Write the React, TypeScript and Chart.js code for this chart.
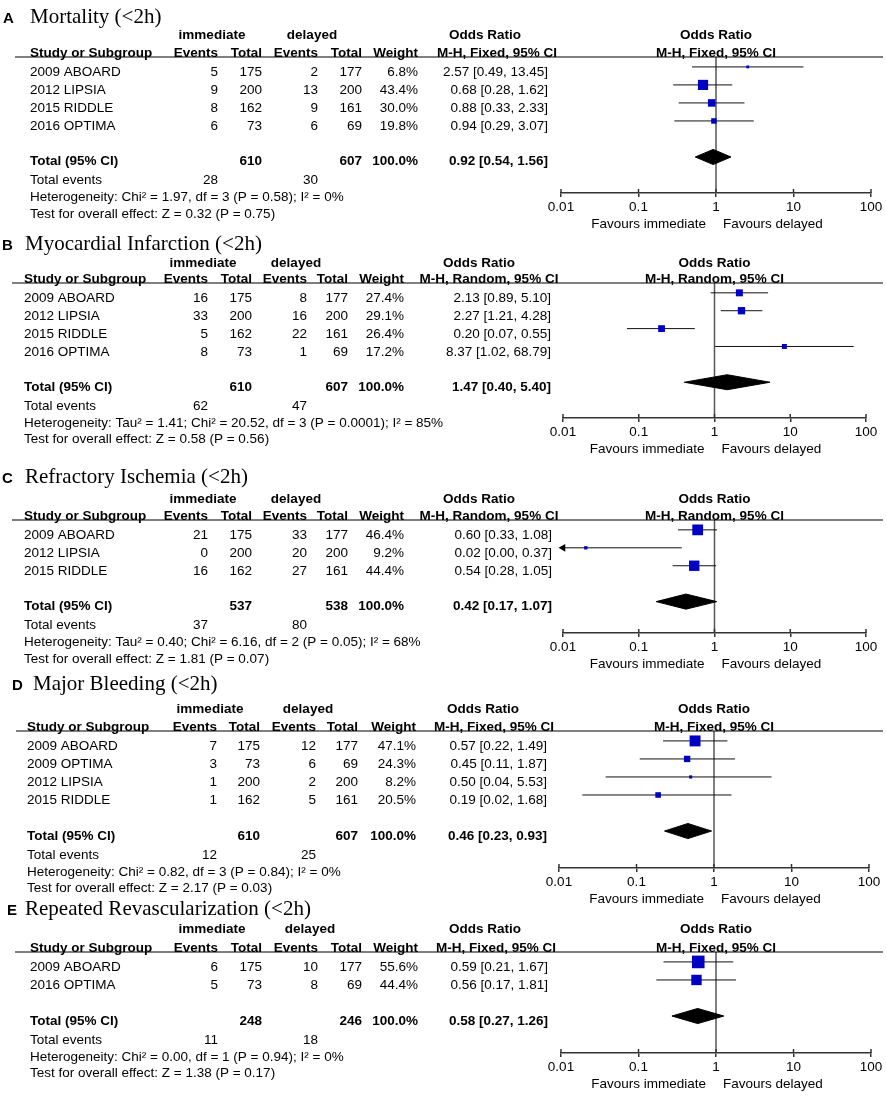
import React, { useEffect, useRef } from "react";
import { Chart, registerables } from "chart.js";

Chart.register(...registerables);

// ---------------- DATA ----------------
const TICK_VALUES = [0.01, 0.1, 1, 10, 100];
const TICK_LABELS = ["0.01", "0.1", "1", "10", "100"];
const AXIS_MIN = 0.01;
const AXIS_MAX = 100;

// A
const A_LETTER = "A";
const A_TITLE = "Mortality (<2h)";
const A_METHOD = "M-H, Fixed, 95% CI";
const A_STUDIES = ["2009 ABOARD", "2012 LIPSIA", "2015 RIDDLE", "2016 OPTIMA"];
const A_EV_IMM = [5, 9, 8, 6];
const A_TOT_IMM = [175, 200, 162, 73];
const A_EV_DEL = [2, 13, 9, 6];
const A_TOT_DEL = [177, 200, 161, 69];
const A_WEIGHT = [6.8, 43.4, 30.0, 19.8];
const A_OR = [2.57, 0.68, 0.88, 0.94];
const A_LO = [0.49, 0.28, 0.33, 0.29];
const A_HI = [13.45, 1.62, 2.33, 3.07];
const A_TOTAL = [0.92, 0.54, 1.56];
const A_HET = "Heterogeneity: Chi² = 1.97, df = 3 (P = 0.58); I² = 0%";
const A_TEST = "Test for overall effect: Z = 0.32 (P = 0.75)";

// B
const B_LETTER = "B";
const B_TITLE = "Myocardial Infarction (<2h)";
const B_METHOD = "M-H, Random, 95% CI";
const B_STUDIES = ["2009 ABOARD", "2012 LIPSIA", "2015 RIDDLE", "2016 OPTIMA"];
const B_EV_IMM = [16, 33, 5, 8];
const B_TOT_IMM = [175, 200, 162, 73];
const B_EV_DEL = [8, 16, 22, 1];
const B_TOT_DEL = [177, 200, 161, 69];
const B_WEIGHT = [27.4, 29.1, 26.4, 17.2];
const B_OR = [2.13, 2.27, 0.2, 8.37];
const B_LO = [0.89, 1.21, 0.07, 1.02];
const B_HI = [5.1, 4.28, 0.55, 68.79];
const B_TOTAL = [1.47, 0.4, 5.4];
const B_HET = "Heterogeneity: Tau² = 1.41; Chi² = 20.52, df = 3 (P = 0.0001); I² = 85%";
const B_TEST = "Test for overall effect: Z = 0.58 (P = 0.56)";

// C
const C_LETTER = "C";
const C_TITLE = "Refractory Ischemia (<2h)";
const C_METHOD = "M-H, Random, 95% CI";
const C_STUDIES = ["2009 ABOARD", "2012 LIPSIA", "2015 RIDDLE"];
const C_EV_IMM = [21, 0, 16];
const C_TOT_IMM = [175, 200, 162];
const C_EV_DEL = [33, 20, 27];
const C_TOT_DEL = [177, 200, 161];
const C_WEIGHT = [46.4, 9.2, 44.4];
const C_OR = [0.6, 0.02, 0.54];
const C_LO = [0.33, 0.0, 0.28];
const C_HI = [1.08, 0.37, 1.05];
const C_TOTAL = [0.42, 0.17, 1.07];
const C_HET = "Heterogeneity: Tau² = 0.40; Chi² = 6.16, df = 2 (P = 0.05); I² = 68%";
const C_TEST = "Test for overall effect: Z = 1.81 (P = 0.07)";

// D
const D_LETTER = "D";
const D_TITLE = "Major Bleeding (<2h)";
const D_METHOD = "M-H, Fixed, 95% CI";
const D_STUDIES = ["2009 ABOARD", "2009 OPTIMA", "2012 LIPSIA", "2015 RIDDLE"];
const D_EV_IMM = [7, 3, 1, 1];
const D_TOT_IMM = [175, 73, 200, 162];
const D_EV_DEL = [12, 6, 2, 5];
const D_TOT_DEL = [177, 69, 200, 161];
const D_WEIGHT = [47.1, 24.3, 8.2, 20.5];
const D_OR = [0.57, 0.45, 0.5, 0.19];
const D_LO = [0.22, 0.11, 0.04, 0.02];
const D_HI = [1.49, 1.87, 5.53, 1.68];
const D_TOTAL = [0.46, 0.23, 0.93];
const D_HET = "Heterogeneity: Chi² = 0.82, df = 3 (P = 0.84); I² = 0%";
const D_TEST = "Test for overall effect: Z = 2.17 (P = 0.03)";

// E
const E_LETTER = "E";
const E_TITLE = "Repeated Revascularization (<2h)";
const E_METHOD = "M-H, Fixed, 95% CI";
const E_STUDIES = ["2009 ABOARD", "2016 OPTIMA"];
const E_EV_IMM = [6, 5];
const E_TOT_IMM = [175, 73];
const E_EV_DEL = [10, 8];
const E_TOT_DEL = [177, 69];
const E_WEIGHT = [55.6, 44.4];
const E_OR = [0.59, 0.56];
const E_LO = [0.21, 0.17];
const E_HI = [1.67, 1.81];
const E_TOTAL = [0.58, 0.27, 1.26];
const E_HET = "Heterogeneity: Chi² = 0.00, df = 1 (P = 0.94); I² = 0%";
const E_TEST = "Test for overall effect: Z = 1.38 (P = 0.17)";

type PanelData = {
  letter: string; title: string; method: string; studies: string[];
  evImm: number[]; totImm: number[]; evDel: number[]; totDel: number[];
  weight: number[]; or: number[]; lo: number[]; hi: number[];
  total: number[]; het: string; test: string;
};

const PANELS: PanelData[] = [
  { letter: A_LETTER, title: A_TITLE, method: A_METHOD, studies: A_STUDIES, evImm: A_EV_IMM, totImm: A_TOT_IMM, evDel: A_EV_DEL, totDel: A_TOT_DEL, weight: A_WEIGHT, or: A_OR, lo: A_LO, hi: A_HI, total: A_TOTAL, het: A_HET, test: A_TEST },
  { letter: B_LETTER, title: B_TITLE, method: B_METHOD, studies: B_STUDIES, evImm: B_EV_IMM, totImm: B_TOT_IMM, evDel: B_EV_DEL, totDel: B_TOT_DEL, weight: B_WEIGHT, or: B_OR, lo: B_LO, hi: B_HI, total: B_TOTAL, het: B_HET, test: B_TEST },
  { letter: C_LETTER, title: C_TITLE, method: C_METHOD, studies: C_STUDIES, evImm: C_EV_IMM, totImm: C_TOT_IMM, evDel: C_EV_DEL, totDel: C_TOT_DEL, weight: C_WEIGHT, or: C_OR, lo: C_LO, hi: C_HI, total: C_TOTAL, het: C_HET, test: C_TEST },
  { letter: D_LETTER, title: D_TITLE, method: D_METHOD, studies: D_STUDIES, evImm: D_EV_IMM, totImm: D_TOT_IMM, evDel: D_EV_DEL, totDel: D_TOT_DEL, weight: D_WEIGHT, or: D_OR, lo: D_LO, hi: D_HI, total: D_TOTAL, het: D_HET, test: D_TEST },
  { letter: E_LETTER, title: E_TITLE, method: E_METHOD, studies: E_STUDIES, evImm: E_EV_IMM, totImm: E_TOT_IMM, evDel: E_EV_DEL, totDel: E_TOT_DEL, weight: E_WEIGHT, or: E_OR, lo: E_LO, hi: E_HI, total: E_TOTAL, het: E_HET, test: E_TEST },
];

// ---------------- LAYOUT / STYLE ----------------
const W = 886;
const SANS = "'Liberation Sans', Arial, sans-serif";
const SERIF = "'Liberation Serif', 'Times New Roman', serif";
const FS = 13.5;
const PANEL_TOP = [0, 226, 463, 674, 895];
const CANVAS_H = [240, 240, 215, 236, 205];
const HEAD_LINE_Y = 57;
const AXIS_Y = [193, 192, 170, 194, 158];
const PLOT_X0 = [561, 563, 563, 559, 561];
const PLOT_X1 = [871, 866, 866, 869, 871];
const Y_MAX = [7.55, 7.55, 6.3, 7.6, 5.6];
const ROW_OFF = 0.55;
const TITLE_BASE = [23, 23.5, 20, 16, 20];
const GROUP_BASE = [38.5, 41, 40, 39, 38];
const LETTER_X = [3, 2, 2, 12, 7];
const TITLE_X = [30, 25, 25, 33, 25];
// name x, events/total imm right, events/total del right, weight right, OR text right
const COLS = [
  [30, 218, 262, 318, 362, 418, 548],
  [24, 208, 252, 307, 348, 404, 551],
  [24, 208, 252, 307, 348, 404, 552],
  [27, 217, 260, 316, 358, 416, 547],
  [30, 218, 262, 318, 362, 418, 548],
];
// centers: immediate, delayed, "Odds Ratio", method header
const CENTERS = [
  [212, 312, 485, 497],
  [203, 296, 479, 489],
  [203, 296, 479, 489],
  [210, 308, 483, 494],
  [212, 310, 485, 496],
];
const RULE_X0 = [15, 12, 12, 16, 15];
const RULE_X1 = 883;
const X_SCALE_H = 30;
const MARKER_COLOR = "#0000C4";
const AXIS_COLOR = "#333333";

const fmt2 = (v: number) => v.toFixed(2);

function tablePlugin(p: PanelData, i: number) {
  return {
    id: "forestTable" + i,
    afterDraw(chart: any) {
      const ctx: CanvasRenderingContext2D = chart.ctx;
      const xs = chart.scales.x;
      const ys = chart.scales.y;
      const area = chart.chartArea;
      const c = COLS[i];
      const g = CENTERS[i];
      const n = p.studies.length;
      ctx.save();
      ctx.fillStyle = "#000";
      ctx.textBaseline = "alphabetic";
      const txt = (s: string, x: number, y: number, align: CanvasTextAlign, bold = false, size = FS) => {
        ctx.font = `${bold ? "bold " : ""}${size}px ${SANS}`;
        ctx.textAlign = align;
        ctx.fillText(s, x, y);
      };
      // Title
      txt(p.letter, LETTER_X[i], TITLE_BASE[i], "left", true, 15);
      ctx.font = `21px ${SERIF}`;
      ctx.textAlign = "left";
      ctx.fillText(p.title, TITLE_X[i], TITLE_BASE[i]);
      // Headers
      const gb = GROUP_BASE[i];
      const hb = area.top - 0.5;
      const mid = (area.left + area.right) / 2;
      txt("immediate", g[0], gb, "center", true);
      txt("delayed", g[1], gb, "center", true);
      txt("Odds Ratio", g[2], gb, "center", true);
      txt("Odds Ratio", mid, gb, "center", true);
      txt("Study or Subgroup", c[0], hb, "left", true);
      txt("Events", c[1], hb, "right", true);
      txt("Total", c[2], hb, "right", true);
      txt("Events", c[3], hb, "right", true);
      txt("Total", c[4], hb, "right", true);
      txt("Weight", c[5], hb, "right", true);
      txt(p.method, g[3], hb, "center", true);
      txt(p.method, mid, hb, "center", true);
      ctx.strokeStyle = "#000";
      ctx.lineWidth = 1.2;
      ctx.beginPath();
      ctx.moveTo(RULE_X0[i], area.top);
      ctx.lineTo(RULE_X1, area.top);
      ctx.stroke();
      // Study rows
      for (let k = 0; k < n; k++) {
        const yb = ys.getPixelForValue(k + ROW_OFF) + 9.5;
        txt(p.studies[k], c[0], yb, "left");
        txt(String(p.evImm[k]), c[1], yb, "right");
        txt(String(p.totImm[k]), c[2], yb, "right");
        txt(String(p.evDel[k]), c[3], yb, "right");
        txt(String(p.totDel[k]), c[4], yb, "right");
        txt(p.weight[k].toFixed(1) + "%", c[5], yb, "right");
        txt(`${fmt2(p.or[k])} [${fmt2(p.lo[k])}, ${fmt2(p.hi[k])}]`, c[6], yb, "right");
      }
      // Total rows
      const sum = (a: number[]) => a.reduce((s, v) => s + v, 0);
      const tb = ys.getPixelForValue(n + 1 + ROW_OFF) + 8.5;
      txt("Total (95% CI)", c[0], tb, "left", true);
      txt(String(sum(p.totImm)), c[2], tb, "right", true);
      txt(String(sum(p.totDel)), c[4], tb, "right", true);
      txt("100.0%", c[5], tb, "right", true);
      txt(`${fmt2(p.total[0])} [${fmt2(p.total[1])}, ${fmt2(p.total[2])}]`, c[6], tb, "right", true);
      txt("Total events", c[0], tb + 19, "left");
      txt(String(sum(p.evImm)), c[1], tb + 19, "right");
      txt(String(sum(p.evDel)), c[3], tb + 19, "right");
      txt(p.het, c[0], tb + 36, "left");
      txt(p.test, c[0], tb + 52.5, "left");
      // Favours
      const x1 = xs.getPixelForValue(1);
      txt("Favours immediate", x1 - 10, area.bottom + 34.5, "right");
      txt("Favours delayed", x1 + 7, area.bottom + 34.5, "left");
      // upper halves of axis ticks
      ctx.strokeStyle = AXIS_COLOR;
      ctx.lineWidth = 1.5;
      xs.ticks.forEach((_t: any, j: number) => {
        const px = xs.getPixelForTick(j);
        ctx.beginPath();
        ctx.moveTo(px, area.bottom - 4);
        ctx.lineTo(px, area.bottom);
        ctx.stroke();
      });
      ctx.restore();
    },
  };
}

function buildConfig(p: PanelData, i: number): any {
  const n = p.studies.length;
  const yMax = Y_MAX[i];
  const datasets: any[] = [];
  // study squares
  datasets.push({
    data: p.or.map((v, k) => ({ x: v, y: k + ROW_OFF })),
    pointStyle: "rect",
    pointRadius: p.weight.map((w) => (0.2 * w + 1.5) / Math.SQRT2),
    pointBackgroundColor: MARKER_COLOR,
    pointBorderWidth: 0,
    showLine: false,
  });
  // arrows for CIs beyond the axis
  const arrows: any[] = [];
  const rot: number[] = [];
  p.lo.forEach((v, k) => { if (v < AXIS_MIN) { arrows.push({ x: AXIS_MIN, y: k + ROW_OFF }); rot.push(270); } });
  p.hi.forEach((v, k) => { if (v > AXIS_MAX) { arrows.push({ x: AXIS_MAX, y: k + ROW_OFF }); rot.push(90); } });
  if (arrows.length) {
    datasets.push({
      data: arrows,
      pointStyle: "triangle",
      pointRadius: 4.5,
      pointRotation: rot,
      pointBackgroundColor: "#000",
      pointBorderWidth: 0,
      showLine: false,
      clip: false,
    });
  }
  // pooled diamond
  const ty = n + 1 + ROW_OFF;
  const dh = 0.42;
  datasets.push({
    data: [
      { x: p.total[1], y: ty },
      { x: p.total[0], y: ty - dh },
      { x: p.total[2], y: ty },
      { x: p.total[0], y: ty + dh },
      { x: p.total[1], y: ty },
    ],
    showLine: true,
    pointRadius: 0,
    borderColor: "#000",
    borderWidth: 1,
    backgroundColor: "#000",
    fill: "shape",
  });
  // CI lines
  p.or.forEach((_v, k) => {
    datasets.push({
      data: [
        { x: Math.max(p.lo[k], AXIS_MIN), y: k + ROW_OFF },
        { x: Math.min(p.hi[k], AXIS_MAX), y: k + ROW_OFF },
      ],
      showLine: true,
      pointRadius: 0,
      borderColor: "#111",
      borderWidth: 1,
      fill: false,
    });
  });
  // line of no effect
  datasets.push({
    data: [{ x: 1, y: 0 }, { x: 1, y: yMax }],
    showLine: true,
    pointRadius: 0,
    borderColor: "#555",
    borderWidth: 1.5,
    fill: false,
  });

  return {
    type: "scatter",
    data: { datasets },
    options: {
      responsive: false,
      animation: false,
      events: [],
      layout: {
        padding: {
          left: PLOT_X0[i],
          right: W - PLOT_X1[i],
          top: HEAD_LINE_Y,
          bottom: CANVAS_H[i] - AXIS_Y[i] - X_SCALE_H,
        },
      },
      plugins: { legend: { display: false }, tooltip: { enabled: false }, title: { display: false } },
      scales: {
        x: {
          type: "logarithmic",
          min: AXIS_MIN,
          max: AXIS_MAX,
          position: "bottom",
          afterBuildTicks: (scale: any) => {
            scale.ticks = TICK_VALUES.map((v) => ({ value: v }));
          },
          afterFit: (scale: any) => {
            scale.height = X_SCALE_H;
          },
          ticks: {
            autoSkip: false,
            maxRotation: 0,
            padding: 2,
            color: "#000",
            font: { family: SANS, size: FS },
            callback: (v: any) => {
              const idx = TICK_VALUES.indexOf(Number(v));
              return idx >= 0 ? TICK_LABELS[idx] : "";
            },
          },
          grid: {
            display: true,
            drawOnChartArea: false,
            drawTicks: true,
            tickLength: 4,
            color: AXIS_COLOR,
            lineWidth: 1.5,
          },
          border: { display: true, color: AXIS_COLOR, width: 1.5 },
        },
        y: {
          type: "linear",
          min: 0,
          max: yMax,
          reverse: true,
          display: false,
        },
      },
    },
    plugins: [tablePlugin(p, i)],
  };
}

function ForestPanel({ index }: { index: number }) {
  const ref = useRef<HTMLCanvasElement>(null);
  useEffect(() => {
    if (!ref.current) return;
    const chart = new Chart(ref.current, buildConfig(PANELS[index], index));
    return () => chart.destroy();
  }, [index]);
  return (
    <canvas
      ref={ref}
      width={W}
      height={CANVAS_H[index]}
      style={{ position: "absolute", left: 0, top: PANEL_TOP[index], width: W, height: CANVAS_H[index] }}
    />
  );
}

export default function App() {
  useEffect(() => {
    document.body.style.margin = "0";
  }, []);
  return (
    <div
      style={{
        position: "absolute",
        left: 0,
        top: 0,
        width: W,
        height: 1100,
        overflow: "hidden",
        background: "#fff",
      }}
    >
      {PANELS.map((_p, i) => (
        <ForestPanel key={i} index={i} />
      ))}
    </div>
  );
}
